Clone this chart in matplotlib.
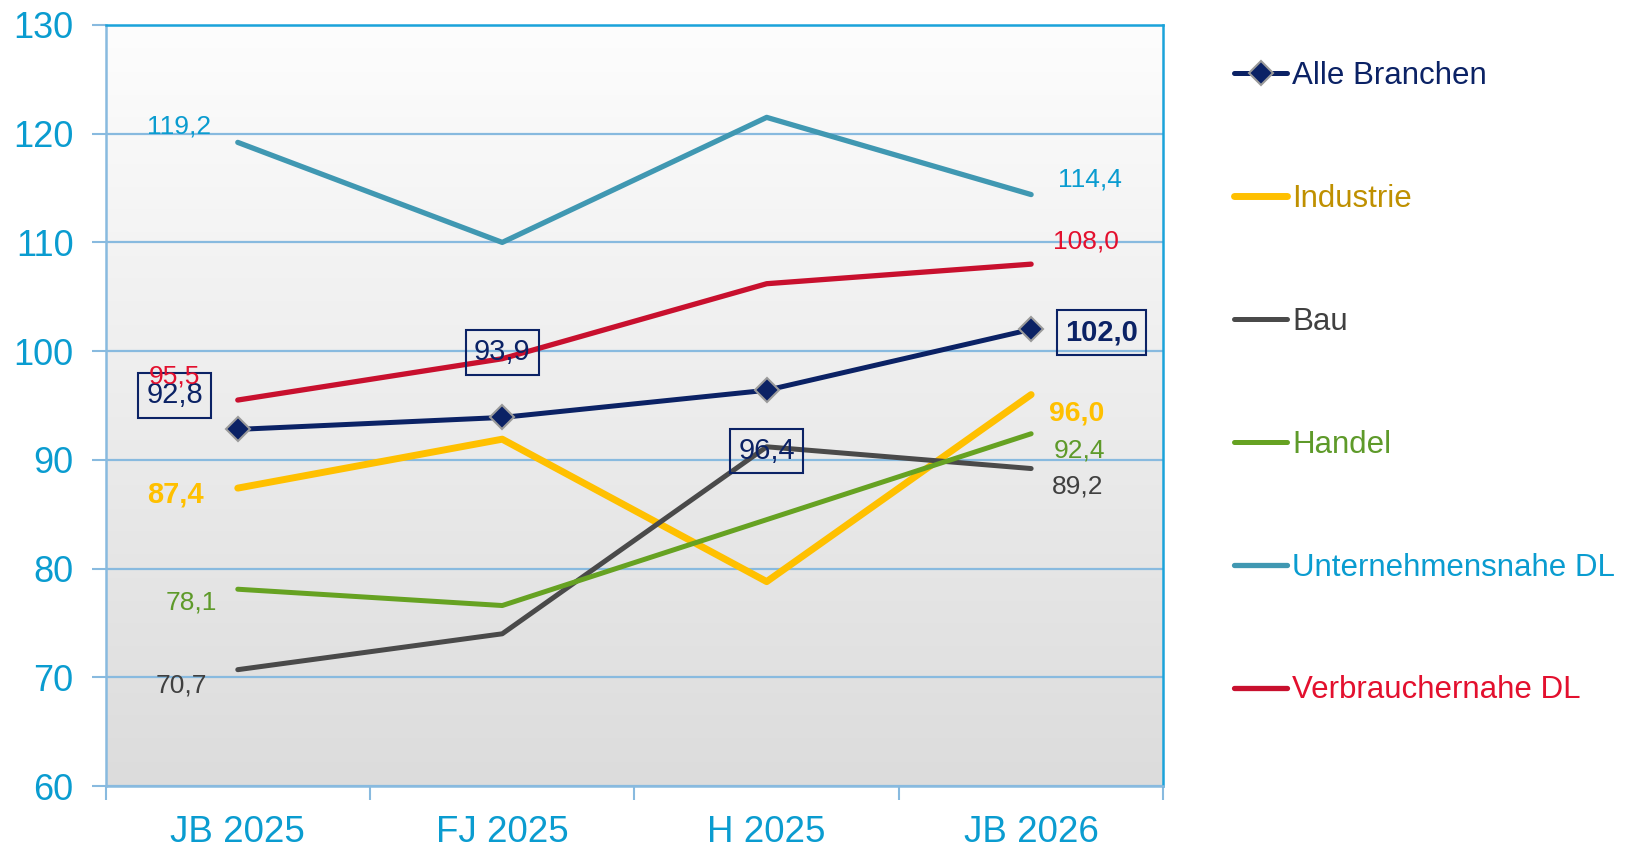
import numpy as np
import matplotlib.pyplot as plt
from matplotlib.colors import LinearSegmentedColormap

plt.rcParams['font.family'] = ['Liberation Sans', 'DejaVu Sans']

# Daten
kategorien = ['JB 2025', 'FJ 2025', 'H 2025', 'JB 2026']
alle_branchen = [92.8, 93.9, 96.4, 102.0]
industrie = [87.4, 91.9, 78.8, 96.0]
bau = [70.7, 74.0, 91.2, 89.2]
handel = [78.1, 76.6, 84.5, 92.4]
unternehmensnahe_dl = [119.2, 110.0, 121.5, 114.4]
verbrauchernahe_dl = [95.5, 99.3, 106.2, 108.0]

NAVY = '#0B2265'
GOLD = '#FFC000'
GRAU = '#4A4A4A'
GRUEN = '#66A222'
PETROL = '#4098B2'
ROT = '#C8102E'
ACHSE = '#0A9CD0'
GITTER = '#88BADF'

fig = plt.figure(figsize=(16.39, 8.49), dpi=100)
ax = fig.add_axes([0.0644, 0.0742, 0.6454, 0.8964])

# Hintergrund mit Verlauf
verlauf = LinearSegmentedColormap.from_list('verlauf', ['#fdfdfd', '#dcdcdc'])
ax.imshow(np.linspace(0, 1, 256).reshape(-1, 1), extent=[0, 1, 0, 1], transform=ax.transAxes,
          cmap=verlauf, aspect='auto', zorder=0)

x = np.arange(len(kategorien))
ax.plot(x, unternehmensnahe_dl, color=PETROL, lw=3.8, solid_capstyle='round', zorder=3)
ax.plot(x, verbrauchernahe_dl, color=ROT, lw=3.8, solid_capstyle='round', zorder=3)
ax.plot(x, industrie, color=GOLD, lw=5, solid_capstyle='round', zorder=3)
ax.plot(x, bau, color=GRAU, lw=3.6, solid_capstyle='round', zorder=3)
ax.plot(x, handel, color=GRUEN, lw=3.6, solid_capstyle='round', zorder=3)
ax.plot(x, alle_branchen, color=NAVY, lw=3.6, solid_capstyle='round', marker='D', markersize=12,
        markerfacecolor=NAVY, markeredgecolor='#9a9a9a', markeredgewidth=1.5, zorder=4)

ax.set_xlim(-0.5, 3.5)
ax.set_ylim(60, 130)
ax.set_yticks(range(60, 131, 10))
ax.set_xticks(x)
ax.set_xticklabels(kategorien)
ax.set_xticks(np.arange(-0.5, 3.6, 1), minor=True)
ax.yaxis.grid(True, color=GITTER, lw=1.6, zorder=1)
ax.set_axisbelow(True)

ax.tick_params(axis='y', length=10, width=1.5, color=GITTER, labelsize=26, labelcolor=ACHSE, pad=13)
ax.tick_params(axis='x', which='major', length=0, labelsize=26.5, labelcolor=ACHSE, pad=21)
ax.tick_params(axis='x', which='minor', length=10, width=1.5, color=GITTER)
for s in ['left', 'bottom']:
    ax.spines[s].set_color(GITTER)
    ax.spines[s].set_linewidth(1.8)
for s in ['top', 'right']:
    ax.spines[s].set_color('#1BA3DA')
    ax.spines[s].set_linewidth(1.8)


def beschriftung(i, werte, dx, dy, farbe, groesse=19, fett=False, rahmen=False):
    text = f'{werte[i]:.1f}'.replace('.', ',')
    box = None
    if rahmen:
        box = dict(boxstyle='square,pad=0.28', fc='none', ec=NAVY, lw=1.5)
    ax.annotate(text, (x[i], werte[i]), xytext=(dx, dy), textcoords='offset pixels',
                ha='center', va='center', color=farbe, fontsize=groesse,
                fontweight='bold' if fett else 'normal', bbox=box, zorder=6)


beschriftung(0, unternehmensnahe_dl, -59, 16, '#0A9CD0')
beschriftung(3, unternehmensnahe_dl, 59, 15, '#0A9CD0')
beschriftung(3, verbrauchernahe_dl, 55, 23, '#E3102E')
beschriftung(0, alle_branchen, -63, 34, NAVY, 21, rahmen=True)
beschriftung(1, alle_branchen, 0, 65, NAVY, 21, rahmen=True)
beschriftung(2, alle_branchen, 0, -61, NAVY, 21, rahmen=True)
beschriftung(3, alle_branchen, 70, -3, NAVY, 21, fett=True, rahmen=True)
beschriftung(0, verbrauchernahe_dl, -63, 24, '#E3102E')
beschriftung(0, industrie, -62, -6, GOLD, 21, fett=True)
beschriftung(3, industrie, 45, -19, GOLD, 20.5, fett=True)
beschriftung(3, handel, 48, -17, '#5E9A2A')
beschriftung(0, handel, -46, -13, '#5E9A2A')
beschriftung(3, bau, 46, -18, '#404040')
beschriftung(0, bau, -56, -16, '#404040')

# Legende
namen = ['Alle Branchen', 'Industrie', 'Bau', 'Handel', 'Unternehmensnahe DL', 'Verbrauchernahe DL']
griffe = [
    plt.Line2D([], [], color=NAVY, lw=3.6, marker='D', markersize=12, markerfacecolor=NAVY,
               markeredgecolor='#9a9a9a', markeredgewidth=1.5, solid_capstyle='round'),
    plt.Line2D([], [], color=GOLD, lw=5, solid_capstyle='round'),
    plt.Line2D([], [], color=GRAU, lw=3.6, solid_capstyle='round'),
    plt.Line2D([], [], color=GRUEN, lw=3.6, solid_capstyle='round'),
    plt.Line2D([], [], color=PETROL, lw=3.8, solid_capstyle='round'),
    plt.Line2D([], [], color=ROT, lw=3.8, solid_capstyle='round'),
]
textfarben = [NAVY, '#BF9000', '#404040', '#5E9A2A', '#0A9CD0', '#E3102E']
fig.legend(griffe, namen, loc='upper left', bbox_to_anchor=(0.753, 0.9277), frameon=False,
           fontsize=22.5, handlelength=1.7, handletextpad=0.15, labelspacing=2.97,
           borderpad=0, borderaxespad=0, labelcolor=textfarben)

fig.savefig('out.png', dpi=100)
